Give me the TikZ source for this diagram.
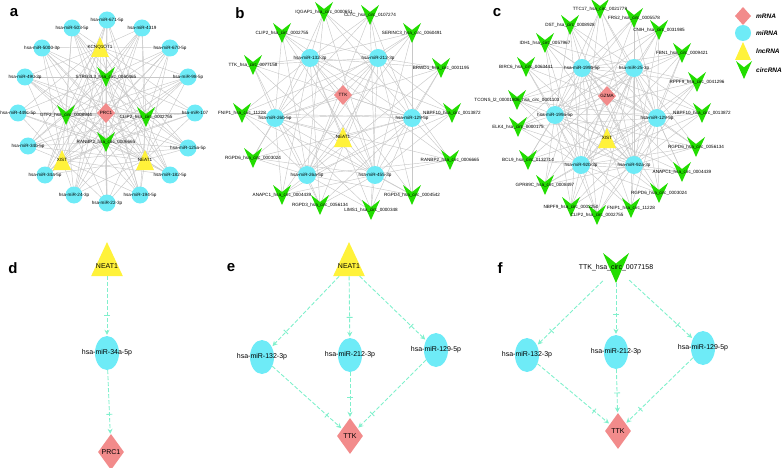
\documentclass[tikz,border=0pt]{standalone}
\usepackage{fontspec}
\setmainfont{Liberation Sans}
\usetikzlibrary{arrows.meta,shapes.geometric}
\definecolor{mrnac}{HTML}{F28B8B}
\definecolor{mirnac}{HTML}{6EEBF7}
\definecolor{lncc}{HTML}{FFF23A}
\definecolor{circc}{HTML}{22DD00}
\definecolor{edgec}{HTML}{C8C8C8}
\definecolor{dashc}{HTML}{80F0CC}
\catcode`\_=12
\newcommand\shMi[3]{\fill[mirnac,shift={(#1)}] (0,0) ellipse ({#2} and {#3});}
\newcommand\shM[3]{\fill[mrnac,shift={(#1)}] (0,-#3)--(#2,0)--(0,#3)--(-#2,0)--cycle;}
\newcommand\shL[3]{\fill[lncc,shift={(#1)}] (0,-#3)--(#2,#3)--(-#2,#3)--cycle;}
\newcommand\shC[3]{\fill[circc,shift={(#1)}] (-#2,-#3)--(0,-0.3*#3)--(#2,-#3)--(0,#3)--cycle;}
\begin{document}
\begin{tikzpicture}[x=1pt,y=-1pt,
  lab/.style={font=\fontsize{4.6}{5}\selectfont,inner sep=0pt},
  blab/.style={font=\fontsize{7}{8}\selectfont,inner sep=0pt},
  panel/.style={font=\bfseries\fontsize{15}{16}\selectfont,inner sep=0pt},
  edge/.style={edgec,line width=0.45pt},
  dlink/.style={dashc,line width=0.9pt,dash pattern=on 4pt off 2pt,
    -{Bar[width=6pt,sep=14pt]Stealth[length=5pt,width=5pt,sep=1pt]}},
  bmi/.style={ellipse,fill=mirnac,minimum width=24pt,minimum height=34pt,inner sep=0pt},
  bmr/.style={diamond,fill=mrnac,minimum width=26pt,minimum height=36pt,inner sep=0pt},
  blnc/.style={isosceles triangle,isosceles triangle apex angle=50,shape border rotate=90,fill=lncc,minimum height=34pt,minimum width=28pt,inner sep=0pt},
  bcir/.style={rectangle,minimum width=26pt,minimum height=30pt,inner sep=0pt},
  leg/.style={font=\bfseries\itshape\fontsize{6.5}{7}\selectfont,anchor=west,inner sep=0pt}]
\useasboundingbox (0,0) rectangle (784,468);
% ---------- coordinates ----------
\foreach \n/\x/\y in {am1/107/20,am2/142/28,am3/170/48,am4/188/77,am5/195/113,am6/188/148,am7/170/175,am8/140/195,am9/107/203,am10/74/195,am11/45/175,am12/28/146,am13/18/113,am14/25/77,am15/42/48,am16/72/28,
 aP/106/113,aK/100/47,aS/106/77,aG/66/115,aC/146/117,aR/106/142,aX/62/160,aN/145/160,
 bm1/310/58,bm2/378/58,bm3/412/118,bm4/375/175,bm5/307/175,bm6/275/118,bT/343/95,bN/343/137,
 bc1/324/12,bc2/370/15,bc3/412/33,bc4/441/68,bc5/452/113,bc6/450/160,bc7/412/195,bc8/371/210,bc9/320/205,bc10/282/195,bc11/253/158,bc12/242/113,bc13/253/65,bc14/282/33,
 cm1/582/68,cm2/634/68,cm3/657/118,cm4/634/165,cm5/581/165,cm6/555/115,cG/607/96,cX/607/138,
 cc1/600/9,cc2/634/18,cc3/659/30,cc4/682/53,cc5/697/82,cc6/702/113,cc7/696/147,cc8/682/172,cc9/659/193,cc10/631/208,cc11/597/215,cc12/571/207,cc13/545/185,cc14/528/160,cc15/518/127,cc16/517/100,cc17/526/67,cc18/545/43,cc19/570/25}
 {\coordinate (\n) at (\x,\y);}
% ---------- edges ----------
\foreach \i in {1,...,16}{\foreach \t in {aP,aK,aS,aG,aC,aR,aX,aN}{\draw[edge] (am\i)--(\t);}}
\foreach \i in {1,...,6}{\draw[edge] (bm\i)--(bT); \draw[edge] (bm\i)--(bN);
  \foreach \j in {1,...,14}{\draw[edge] (bm\i)--(bc\j);}
  \draw[edge] (cm\i)--(cG); \draw[edge] (cm\i)--(cX);
  \foreach \j in {1,...,19}{\draw[edge] (cm\i)--(cc\j);}}
% ---------- shapes ----------
\foreach \i in {1,...,16}{\shMi{am\i}{8.5}{8.5}}
\foreach \i in {1,...,6}{\shMi{bm\i}{9}{9}\shMi{cm\i}{9}{9}}
\foreach \i in {1,...,14}{\shC{bc\i}{9}{10}}
\foreach \i in {1,...,19}{\shC{cc\i}{9}{10}}
\foreach \t in {aS,aG,aC,aR}{\shC{\t}{9}{10}}
\shM{aP}{9}{10}\shM{bT}{9}{10}\shM{cG}{9}{10}
\foreach \t in {aK,aX,aN,bN,cX}{\shL{\t}{9}{10}}
% ---------- labels ----------
\foreach \n/\t in {am1/hsa-miR-671-5p,am2/hsa-miR-4319,am3/hsa-miR-670-5p,am4/hsa-miR-98-5p,am5/hsa-miR-107,am6/hsa-miR-125a-5p,am7/hsa-miR-182-5p,am8/hsa-miR-194-5p,am9/hsa-miR-22-3p,am10/hsa-miR-24-3p,am11/hsa-miR-34a-5p,am12/hsa-miR-34b-5p,am13/hsa-miR-449c-5p,am14/hsa-miR-490-3p,am15/hsa-miR-5000-3p,am16/hsa-miR-503-5p,
 aP/PRC1,aK/KCNQ1OT1,aS/STRG3L3_hsa_circ_0060465,aG/GTF2_hsa_circ_0008944,aC/CLIP2_hsa_circ_0002755,aR/RANBP2_hsa_circ_0006665,aX/XIST,aN/NEAT1,
 bm1/hsa-miR-132-3p,bm2/hsa-miR-212-3p,bm3/hsa-miR-129-5p,bm4/hsa-miR-455-3p,bm5/hsa-miR-26a-5p,bm6/hsa-miR-26b-5p,bT/TTK,bN/NEAT1,
 bc1/IQGAP1_hsa_circ_0000651,bc2/CLTC_hsa_circ_0107274,bc3/SERINC3_hsa_circ_0060491,bc4/BRWD1_hsa_circ_0001195,bc5/NBPF10_hsa_circ_0013872,bc6/RANBP2_hsa_circ_0006665,bc7/RGPD4_hsa_circ_0004542,bc8/LIMS1_hsa_circ_0000348,bc9/RGPD3_hsa_circ_0056134,bc10/ANAPC1_hsa_circ_0004439,bc11/RGPD6_hsa_circ_0003024,bc12/FNIP1_hsa_circ_11228,bc13/TTK_hsa_circ_0077158,bc14/CLIP2_hsa_circ_0002755,
 cm1/hsa-miR-199b-5p,cm2/hsa-miR-25-3p,cm3/hsa-miR-129-5p,cm4/hsa-miR-92a-3p,cm5/hsa-miR-92b-3p,cm6/hsa-miR-199a-5p,cG/GZMA,cX/XIST,
 cc1/TTC17_hsa_circ_0021779,cc2/FRS2_hsa_circ_0005578,cc3/CNIH_hsa_circ_0031985,cc4/FBN1_hsa_circ_0009421,cc5/RPPF9_hsa_circ_0041296,cc6/NBPF10_hsa_circ_0013872,cc7/RGPD6_hsa_circ_0056134,cc8/ANAPC1_hsa_circ_0004439,cc9/RGPD6_hsa_circ_0003024,cc10/FNIP1_hsa_circ_11228,cc11/CLIP2_hsa_circ_0002755,cc12/NBPF9_hsa_circ_0002250,cc13/GPR89C_hsa_circ_0008497,cc14/BCL9_hsa_circ_0132714,cc15/ELK4_hsa_circ_0000175,cc16/TCONS_l2_00001806_hsa_circ_0001103,cc17/BIRC6_hsa_circ_0063441,cc18/IDH1_hsa_circ_0057967,cc19/DST_hsa_circ_0008928}
 {\node[lab] (L\n) at (\n) {\t};}
% ---------- panel letters ----------
\node[panel] (pa) at (14,13) {a};
\node[panel] (pb) at (240,13) {b};
\node[panel] (pc) at (497,13) {c};
\node[panel] (pd) at (13,268) {d};
\node[panel] (pe) at (231,268) {e};
\node[panel] (pf) at (500,268) {f};
% ---------- legend ----------
\coordinate (g1) at (743,16); \coordinate (g2) at (743,33); \coordinate (g3) at (743,51); \coordinate (g4) at (744,70);
\shM{g1}{8}{9}\shMi{g2}{8}{8}\shL{g3}{8}{9}\shC{g4}{8}{9}
\node[leg] (lg1) at (756,16) {mRNA};
\node[leg] (lg2) at (756,33) {miRNA};
\node[leg] (lg3) at (756,51) {lncRNA};
\node[leg] (lg4) at (756,70) {circRNA};
% ---------- bottom ----------
\node[blnc] (dN) at (107,266) {};
\node[bmi] (dm) at (107,353) {};
\node[bmr] (dP) at (111,452) {};
\node[blnc] (eN) at (349,266) {};
\node[bmi] (e1) at (262,357) {};
\node[bmi] (e2) at (350,355) {};
\node[bmi] (e3) at (436,350) {};
\node[bmr] (eT) at (350,436) {};
\node[bcir] (fC) at (616,268) {};
\shC{fC}{13}{15}
\node[bmi] (f1) at (527,355) {};
\node[bmi] (f2) at (616,352) {};
\node[bmi] (f3) at (703,348) {};
\node[bmr] (fT) at (618,431) {};
\foreach \n/\t in {dN/NEAT1,dm/hsa-miR-34a-5p,dP/PRC1,eN/NEAT1,e1/hsa-miR-132-3p,e2/hsa-miR-212-3p,e3/hsa-miR-129-5p,eT/TTK,fC/TTK_hsa_circ_0077158,f1/hsa-miR-132-3p,f2/hsa-miR-212-3p,f3/hsa-miR-129-5p,fT/TTK}
 {\node[blab] (B\n) at (\n) {\t};}
\draw[dlink] (dN) -- (dm);
\draw[dlink] (dm) -- (dP);
\foreach \s in {e1,e2,e3}{\draw[dlink] (eN) -- (\s); \draw[dlink] (\s) -- (eT);}
\foreach \s in {f1,f2,f3}{\draw[dlink] (fC) -- (\s); \draw[dlink] (\s) -- (fT);}
\end{tikzpicture}
\end{document}
